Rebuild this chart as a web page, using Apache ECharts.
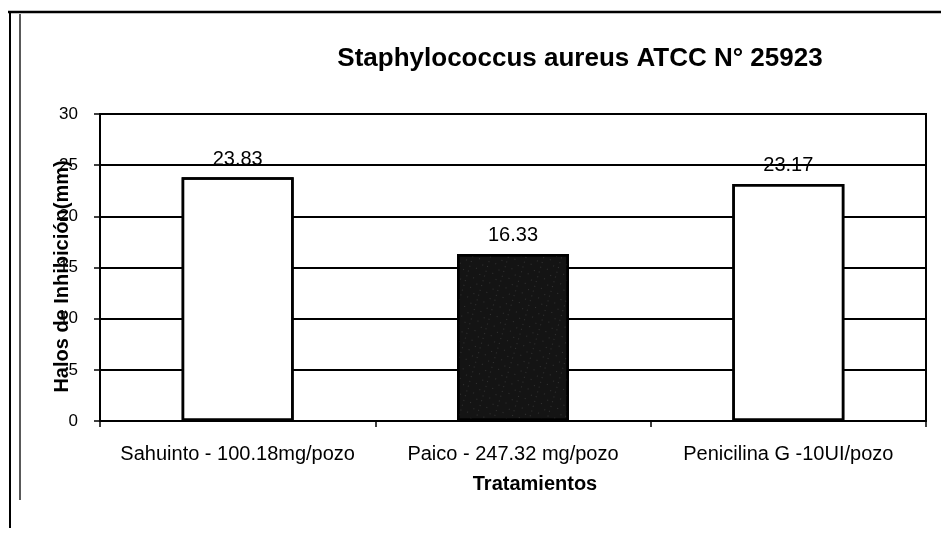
<!DOCTYPE html>
<html>
<head>
<meta charset="utf-8">
<script src="https://cdn.jsdelivr.net/npm/echarts@6/dist/echarts.min.js"></script>
<style>html,body{margin:0;padding:0;background:#fff}#c{width:943px;height:540px}</style>
</head>
<body>
<div id="c"></div>
<script>
const titleText = 'Staphylococcus aureus ATCC N° 25923';
const categories = ['Sahuinto - 100.18mg/pozo', 'Paico - 247.32 mg/pozo', 'Penicilina G -10UI/pozo'];
const values = [23.83, 16.33, 23.17];
const barColors = ['#ffffff', '#141414', '#ffffff'];
const yMin = 0, yMax = 30, yStep = 5;
const yName = 'Halos de Inhibición(mm)';
const xName = 'Tratamientos';

const FONT = '"Liberation Sans", Arial, sans-serif';
const chart = echarts.init(document.getElementById('c'), null, {renderer: 'canvas'});
chart.setOption({
  animation: false,
  backgroundColor: '#ffffff',
  aria: {enabled: true, label: {enabled: false}, decal: {show: true}},
  title: {
    text: titleText, left: 575, top: 41, textAlign: 'center',
    textStyle: {fontFamily: FONT, fontWeight: 'bold', fontSize: 26, color: '#000'}
  },
  grid: {left: 100, right: 17, top: 114, bottom: 119, show: true, borderColor: '#000', borderWidth: 2, backgroundColor: 'transparent'},
  xAxis: {
    type: 'category', data: categories,
    axisLine: {lineStyle: {color: '#000', width: 2}},
    axisTick: {show: true, alignWithLabel: false, length: 6, lineStyle: {color: '#000', width: 1.5}},
    axisLabel: {color: '#000', fontFamily: FONT, fontSize: 20, margin: 23, interval: 0},
    name: xName, nameLocation: 'middle', nameGap: 53,
    nameTextStyle: {color: '#000', fontFamily: FONT, fontWeight: 'bold', fontSize: 20, padding: [0, 0, 0, 44]}
  },
  yAxis: {
    type: 'value', min: yMin, max: yMax, interval: yStep,
    axisLine: {show: true, lineStyle: {color: '#000', width: 2}},
    axisTick: {show: true, length: 6, lineStyle: {color: '#000', width: 1.5}},
    axisLabel: {color: '#000', fontFamily: FONT, fontSize: 17, margin: 22},
    splitLine: {show: true, lineStyle: {color: '#000', width: 2}},
    name: yName, nameLocation: 'middle', nameRotate: 90, nameGap: 28, nameMoveOverlap: false,
    nameTextStyle: {color: '#000', fontFamily: FONT, fontWeight: 'bold', fontSize: 20, padding: [0, 18, 0, 0]}
  },
  series: [{
    type: 'bar', barWidth: 112,
    data: values.map((v, i) => {
      const style = {color: barColors[i], borderColor: '#000', borderWidth: 2.5};
      if (i === 1) {
        style.decal = {symbol: 'rect', color: 'rgba(255,255,255,0.45)', symbolSize: 0.6,
          dashArrayX: [[1, 6, 1, 9], [1, 11, 1, 4]], dashArrayY: [1, 4], rotation: 0.3};
      } else {
        style.decal = {symbol: 'none'};
      }
      return {value: v, itemStyle: style};
    }),
    label: {show: true, position: 'top', distance: 8, color: '#000', fontFamily: FONT, fontSize: 20,
      formatter: p => p.value.toFixed(2)}
  }],
  graphic: [
    {type: 'line', shape: {x1: 8, y1: 12, x2: 941, y2: 12}, style: {stroke: '#000', lineWidth: 2.5}},
    {type: 'line', shape: {x1: 10, y1: 12, x2: 10, y2: 528}, style: {stroke: '#000', lineWidth: 2}},
    {type: 'line', shape: {x1: 20, y1: 14, x2: 20, y2: 500}, style: {stroke: '#222', lineWidth: 1.5}}
  ]
});
</script>
</body>
</html>
